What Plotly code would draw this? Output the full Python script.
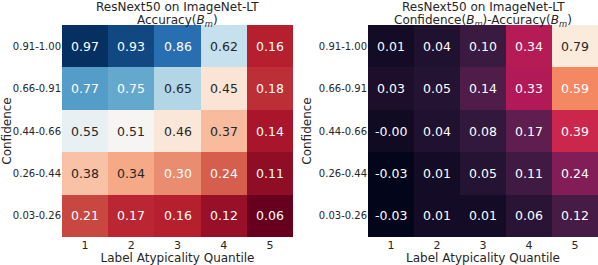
import plotly.graph_objects as go

# ---- data ----
conf_bins = ["0.91-1.00", "0.66-0.91", "0.44-0.66", "0.26-0.44", "0.03-0.26"]  # top -> bottom
quantiles = ["1", "2", "3", "4", "5"]
accuracy = [
    [0.97, 0.93, 0.86, 0.62, 0.16],
    [0.77, 0.75, 0.65, 0.45, 0.18],
    [0.55, 0.51, 0.46, 0.37, 0.14],
    [0.38, 0.34, 0.30, 0.24, 0.11],
    [0.21, 0.17, 0.16, 0.12, 0.06],
]
gap = [
    [0.01, 0.04, 0.10, 0.34, 0.79],
    [0.03, 0.05, 0.14, 0.33, 0.59],
    [-0.00, 0.04, 0.08, 0.17, 0.39],
    [-0.03, 0.01, 0.05, 0.11, 0.24],
    [-0.03, 0.01, 0.01, 0.06, 0.12],
]
title_line1 = "ResNext50 on ImageNet-LT"
title_left = "Accuracy(<i>B</i><sub><i>m</i></sub>)"
title_right = "Confidence(<i>B</i><sub><i>m</i></sub>)-Accuracy(<i>B</i><sub><i>m</i></sub>)"

# ---- colormaps ----
rdbu_hex = ["#67001F", "#B2182B", "#D6604D", "#F4A582", "#FDDBC7", "#F7F7F7",
            "#D1E5F0", "#92C5DE", "#4393C3", "#2166AC", "#053061"]
rdbu = [[i / 10, c] for i, c in enumerate(rdbu_hex)]
rocket_hex = ["#03051A", "#35193E", "#701F57", "#AD1759", "#E13342", "#F37651", "#F6B48F", "#FAEBDD"]
rocket = [[i / 7, c] for i, c in enumerate(rocket_hex)]


def hex2rgb(h):
    h = h.lstrip("#")
    return [int(h[i:i + 2], 16) / 255 for i in (0, 2, 4)]


def sample(scale, t):
    t = min(max(t, 0), 1)
    for (p0, c0), (p1, c1) in zip(scale[:-1], scale[1:]):
        if p0 <= t <= p1:
            f = (t - p0) / (p1 - p0) if p1 > p0 else 0
            a, b = hex2rgb(c0), hex2rgb(c1)
            return [a[k] + f * (b[k] - a[k]) for k in range(3)]
    return hex2rgb(scale[-1][1])


def lum(rgb):
    lin = [c / 12.92 if c <= 0.03928 else ((c + 0.055) / 1.055) ** 2.4 for c in rgb]
    return 0.2126 * lin[0] + 0.7152 * lin[1] + 0.0722 * lin[2]


FONT = "DejaVu Sans"
TXT = "#262626"
fig = go.Figure()

panels = [
    (accuracy, rdbu, "x", "y", [62 / 598, 293 / 598], title_left),
    (gap, rocket, "x2", "y2", [368 / 598, 1.0], title_right),
]
ydom = [1 - 237 / 265, 1 - 25 / 265]
annotations = []
for i, (z, cs, xa, ya, xdom, ttl) in enumerate(panels):
    flat = [v for row in z for v in row]
    zmin, zmax = min(flat), max(flat)
    fig.add_trace(go.Heatmap(z=z, x=quantiles, y=conf_bins, colorscale=cs, zmin=zmin, zmax=zmax,
                             showscale=False, xaxis=xa, yaxis=ya, hoverinfo="skip"))
    for r, row in enumerate(z):
        for c, v in enumerate(row):
            col = sample(cs, (v - zmin) / (zmax - zmin))
            tc = TXT if lum(col) > 0.408 else "white"
            # category axes: position by category index
            annotations.append(dict(x=c, y=r, xref=xa, yref=ya,
                                    text=f"{v:.2f}", showarrow=False,
                                    font=dict(family=FONT, size=12.5, color=tc)))
    cx = (xdom[0] + xdom[1]) / 2
    annotations.append(dict(x=cx, y=1 + 2 / 265, xref="paper", yref="paper", showarrow=False,
                            text=title_line1, font=dict(family=FONT, size=12, color=TXT),
                            xanchor="center", yanchor="top"))
    annotations.append(dict(x=cx, y=1 - 11 / 265, xref="paper", yref="paper", showarrow=False,
                            text=ttl, font=dict(family=FONT, size=12, color=TXT),
                            xanchor="center", yanchor="top"))
    sfx = "" if i == 0 else "2"
    fig.layout["xaxis" + sfx] = dict(domain=xdom, anchor=ya, type="category", showgrid=False,
                                     zeroline=False, ticks="",
                                     tickfont=dict(family=FONT, size=11, color=TXT),
                                     title=dict(text="Label Atypicality Quantile",
                                                font=dict(family=FONT, size=12, color=TXT),
                                                standoff=2),
                                     showline=False)
    fig.layout["yaxis" + sfx] = dict(domain=ydom, anchor=xa, type="category", showgrid=False,
                                     zeroline=False, ticks="", autorange="reversed",
                                     tickfont=dict(family=FONT, size=10, color=TXT),
                                     title=dict(text="Confidence",
                                                font=dict(family=FONT, size=12, color=TXT),
                                                standoff=4),
                                     showline=False)

fig.update_layout(width=598, height=265, margin=dict(l=0, r=0, t=0, b=0),
                  paper_bgcolor="white", plot_bgcolor="white", annotations=annotations,
                  font=dict(family=FONT))
fig.write_html("out.html", config={"displayModeBar": False},
               post_script="document.body.style.margin='0';")
